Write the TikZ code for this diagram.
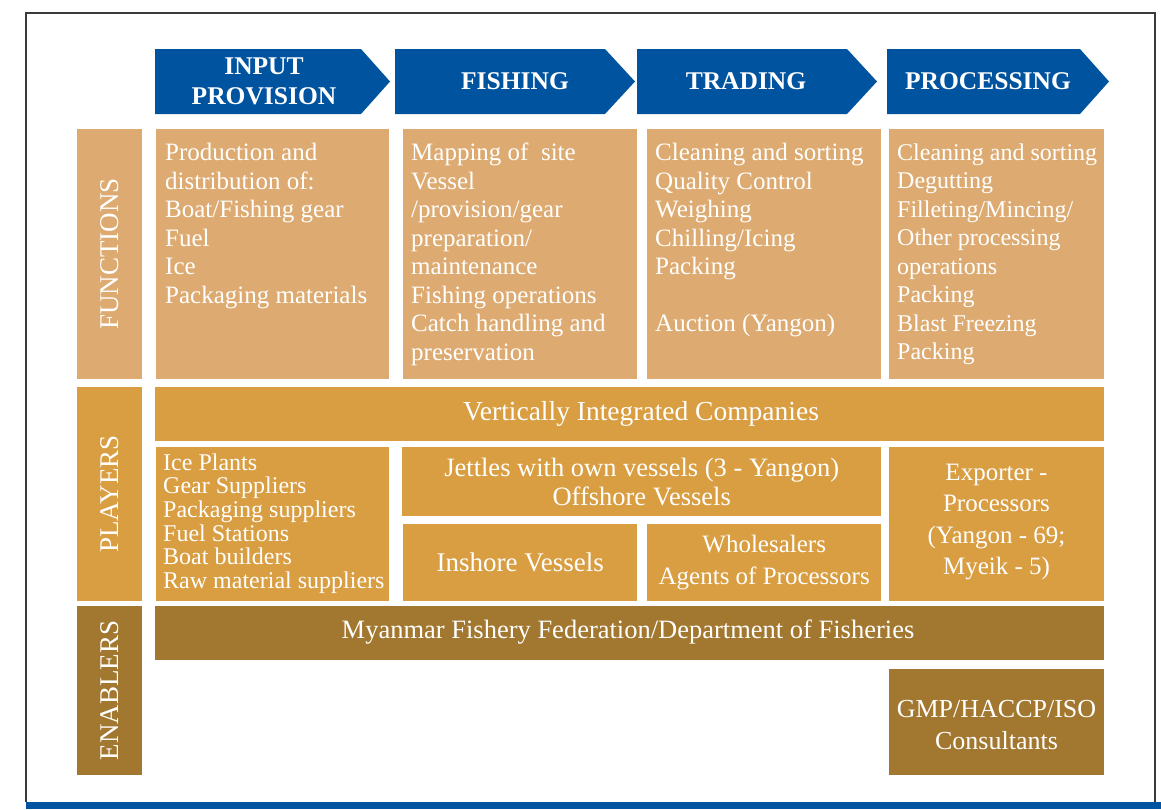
\documentclass[tikz,border=0pt]{standalone}
\usepackage{fontspec}
\setmainfont{Liberation Serif}
\definecolor{bluehdr}{HTML}{00539F}
\definecolor{funcc}{HTML}{DDAB71}
\definecolor{playc}{HTML}{D99E41}
\definecolor{enabc}{HTML}{A2772F}
\definecolor{framec}{HTML}{3A3A3A}
\begin{document}
\begin{tikzpicture}[x=1pt,y=-1pt,
  hdr/.style={text=white,align=center,inner sep=0pt,font=\fontsize{25.5}{30}\selectfont\bfseries},
  ftxt/.style={text=white,align=left,anchor=north west,inner sep=0pt,font=\fontsize{25}{28.5}\selectfont},
  lbl/.style={text=white,rotate=90,inner sep=0pt,font=\fontsize{27}{30}\selectfont},
  ptxt/.style={text=white,align=center,inner sep=0pt,font=\fontsize{25}{31.5}\selectfont},
  fbox/.style={fill=funcc,draw=none,inner sep=0pt},
  pbox/.style={fill=playc,draw=none,inner sep=0pt},
  ebox/.style={fill=enabc,draw=none,inner sep=0pt},
  box/.style n args={4}{minimum width=#3-#1, minimum height=#4-#2, anchor=north west},
]
\useasboundingbox (0,0) rectangle (1161,809);
% frame
\draw[framec,line width=1.2pt] (26,802) -- (26,13) -- (1155,13) -- (1155,802);
\fill[bluehdr] (26,802) rectangle (1161,809);

% header arrows
\fill[bluehdr] (155,49) -- (361,49) -- (390,81.5) -- (361,114) -- (155,114) -- cycle;
\fill[bluehdr] (395,49) -- (605,49) -- (635,81.5) -- (605,114) -- (395,114) -- cycle;
\fill[bluehdr] (637,49) -- (847,49) -- (877,81.5) -- (847,114) -- (637,114) -- cycle;
\fill[bluehdr] (887,49) -- (1080,49) -- (1109,81.5) -- (1080,114) -- (887,114) -- cycle;
\node[hdr] (h1) at (264,81.5) {INPUT\\PROVISION};
\node[hdr] (h2) at (515,81.5) {FISHING};
\node[hdr] (h3) at (746,81.5) {TRADING};
\node[hdr] (h4) at (988,81.5) {PROCESSING};

% row labels
\node[fbox,box={77}{129}{142}{379}] (lf) at (77,129) {};
\node[pbox,box={77}{387}{142}{601}] (lp) at (77,387) {};
\node[ebox,box={77}{606}{142}{775}] (le) at (77,606) {};
\node[lbl] (lft) at (lf.center) {FUNCTIONS};
\node[lbl] (lpt) at (lp.center) {PLAYERS};
\node[lbl] (let) at (le.center) {ENABLERS};

% functions
\node[fbox,box={156}{129}{389}{379}] (f1) at (156,129) {};
\node[fbox,box={403}{129}{637}{379}] (f2) at (403,129) {};
\node[fbox,box={647}{129}{881}{379}] (f3) at (647,129) {};
\node[fbox,box={889}{129}{1104}{379}] (f4) at (889,129) {};
\node[ftxt] (t1) at (165,143) {Production and\\distribution of:\\Boat/Fishing gear\\Fuel\\Ice\\Packaging materials};
\node[ftxt] (t2) at (411,143) {Mapping of\ \ site\\Vessel\\/provision/gear\\preparation/\\maintenance\\Fishing operations\\Catch handling and\\preservation};
\node[ftxt] (t3) at (655,143) {Cleaning and sorting\\Quality Control\\Weighing\\Chilling/Icing\\Packing\\[28.5pt]Auction (Yangon)};
\node[ftxt,font=\fontsize{24}{28.5}\selectfont] (t4) at (897,143.5) {Cleaning and sorting\\Degutting\\Filleting/Mincing/\\Other processing\\operations\\Packing\\Blast Freezing\\Packing};

% players
\node[pbox,box={155}{387}{1104}{441}] (pv) at (155,387) {};
\node[ptxt,font=\fontsize{27.5}{31.5}\selectfont] (pvt) at (641,414) {Vertically Integrated Companies};
\node[pbox,box={156}{447}{389}{601}] (pi) at (156,447) {};
\node[ftxt,font=\fontsize{24}{23.6}\selectfont] (pit) at (163,453.5) {Ice Plants\\Gear Suppliers\\Packaging suppliers\\Fuel Stations\\Boat builders\\Raw material suppliers};
\node[pbox,box={402}{447}{881}{516}] (pj) at (402,447) {};
\node[ptxt,font=\fontsize{26.5}{29}\selectfont] (pjt) at (pj.center) {Jettles with own vessels (3 - Yangon)\\Offshore Vessels};
\node[pbox,box={403}{524}{637}{601}] (pn) at (403,524) {};
\node[ptxt,font=\fontsize{27}{31.5}\selectfont] (pnt) at (pn.center) {Inshore Vessels};
\node[pbox,box={647}{524}{881}{601}] (pw) at (647,524) {};
\node[ptxt,font=\fontsize{25}{32}\selectfont] (pwt) at (pw.center) {Wholesalers\\Agents of Processors};
\node[pbox,box={889}{447}{1104}{601}] (pe) at (889,447) {};
\node[ptxt] (pet) at (996.5,522) {Exporter -\\Processors\\(Yangon - 69;\\Myeik - 5)};

% enablers
\node[ebox,box={155}{606}{1104}{660}] (em) at (155,606) {};
\node[ptxt,font=\fontsize{26.5}{31.5}\selectfont] (emt) at (628,632) {Myanmar Fishery Federation/Department of Fisheries};
\node[ebox,box={889}{669}{1104}{775}] (eg) at (889,669) {};
\node[ptxt,font=\fontsize{26}{32}\selectfont] (egt) at (996.5,725) {GMP/HACCP/ISO\\Consultants};
\end{tikzpicture}
\end{document}
